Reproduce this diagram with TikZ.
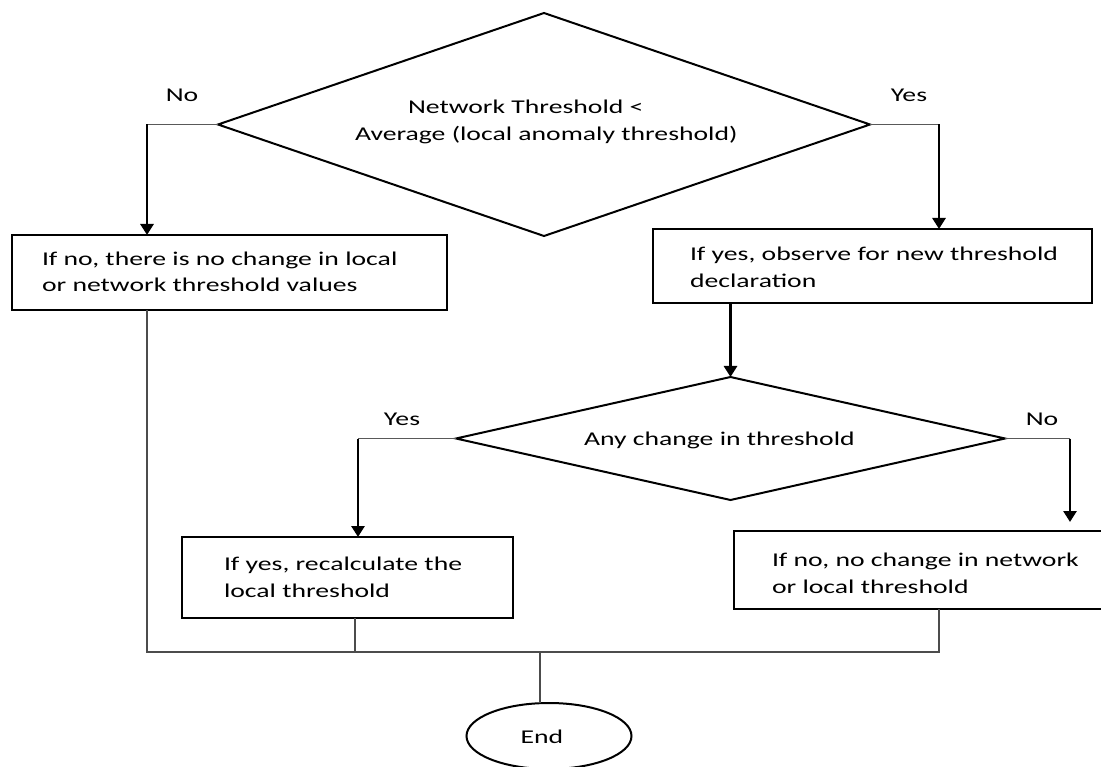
\documentclass[tikz,border=0pt]{standalone}
\usepackage{fontspec}
\setmainfont[FakeStretch=1.42]{Carlito}
\usetikzlibrary{shapes.geometric,arrows.meta}
\begin{document}
\begin{tikzpicture}[x=1pt,y=-1pt,
  every node/.style={font=\fontsize{19.5}{26.5}\selectfont, inner sep=0pt, outer sep=0pt},
  decision/.style={draw, shape=diamond, line width=2pt},
  procbox/.style={draw, rectangle, line width=2.4pt},
  boxtext/.style={align=left, anchor=base west},
  lbl/.style={anchor=base},
  stub/.style={draw=black!65, line width=1.5pt},
  arr/.style={draw, line width=2.8pt, -{Triangle[width=13pt,length=11pt]}},
  joinline/.style={draw=black!70, line width=1.5pt},
  endstyle/.style={draw, ellipse, line width=2pt}]
\useasboundingbox (0,0) rectangle (1101,767);
\clip (0,0) rectangle (1101,767);

% decisions
\node[decision, minimum width=652pt, minimum height=223pt] (d1) at (544,124.5) {};
\node[anchor=base west] (d1a) at (408,114) {Network Threshold <};
\node[anchor=base west] (d1b) at (355,141) {Average (local anomaly threshold)};

\node[decision, minimum width=549pt, minimum height=123pt] (d2) at (730.5,438.5) {};
\node[anchor=base west] (d2a) at (584,445) {Any change in threshold};

% boxes (text anchored at the baseline of its last line)
\node[procbox, minimum width=435pt, minimum height=75pt] (b1) at (229.5,272.5) {};
\node[boxtext] (t1) at (42,292) {If no, there is no change in local\\or network threshold values};
\node[procbox, minimum width=439pt, minimum height=74pt] (b2) at (872.5,266) {};
\node[boxtext] (t2) at (690,287.5) {If yes, observe for new threshold\\declaration};
\node[procbox, minimum width=331pt, minimum height=81pt] (b3) at (347.5,577.5) {};
\node[boxtext] (t3) at (224,597) {If yes, recalculate the\\local threshold};
\node[procbox, minimum width=381pt, minimum height=78pt] (b4) at (924.5,570) {};
\node[boxtext] (t4) at (772,593) {If no, no change in network\\or local threshold};

% end
\node[endstyle, minimum width=165pt, minimum height=66pt] (e) at (549,736) {};
\node[lbl] (et) at (542,743) {End};

% labels
\node[lbl] (no1) at (182,102) {No};
\node[lbl] (yes1) at (909,102) {Yes};
\node[lbl] (yes2) at (402,425) {Yes};
\node[lbl] (no2) at (1042,425) {No};

% connectors
\coordinate (c1) at (147,124.5);
\coordinate (c2) at (939,124.5);
\coordinate (c3) at (358,438.5);
\coordinate (c4) at (1070,438.5);
\draw[stub] (d1.west) -- (c1);
\draw[arr] (c1) -- (c1 |- b1.north);
\draw[stub] (d1.east) -- (c2);
\draw[arr] (c2) -- (c2 |- b2.north);
\draw[arr] (d2.north |- b2.south) -- (d2.north);
\draw[stub] (d2.west) -- (c3);
\draw[arr] (c3) -- (c3 |- b3.north);
\draw[stub] (d2.east) -- (c4);
\draw[arr, shorten >=9pt] (c4) -- (c4 |- b4.north);

\coordinate (j1) at (147,652);
\coordinate (j2) at (355,652);
\coordinate (j3) at (939,652);
\coordinate (jn) at (540,652);
\draw[joinline] (b1.south -| j1) -- (j1) -- (j3) -- (b4.south -| j3);
\draw[joinline] (b3.south -| j2) -- (j2);
\draw[joinline] (jn) -- (jn |- e.north);
\end{tikzpicture}
\end{document}
